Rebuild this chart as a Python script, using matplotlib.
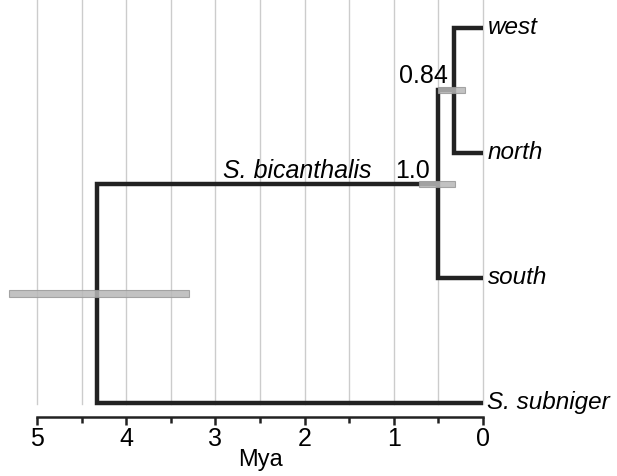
import matplotlib
matplotlib.use("Agg")
import matplotlib.pyplot as plt
import numpy as np

plt.rcParams['font.family'] = ['Liberation Sans', 'DejaVu Sans']

# Tips (name, y position)
tip_names = ["west", "north", "south", "S. subniger"]
tip_y = [3, 2, 1, 0]
tip_age = [0, 0, 0, 0]

# Node ages (Mya)
node_west_north = 0.33
node_bic = 0.50
node_root = 4.33

# HPD intervals (Mya) [older, younger]
hpd_root = (5.31, 3.30)
hpd_bic = (0.72, 0.31)
hpd_wn = (0.50, 0.20)

posterior_labels = ["0.84", "1.0"]
clade_label = "S. bicanthalis"

ticks = [5, 4, 3, 2, 1, 0]
tick_labels = ["5", "4", "3", "2", "1", "0"]

fig = plt.figure(figsize=(6.17, 4.76), dpi=100)
ax = fig.add_axes([0.0, 1 - 417/476, 483/617, 417/476])
ax.set_xlim(5 + 37/89.2, 0)
ax.set_ylim(-0.112, 3.22)

# grid lines every 0.5
for g in np.arange(0, 5.01, 0.5):
    ax.plot([g, g], [-0.01, 3.3], color="#cccccc", lw=1.0, zorder=0, clip_on=False)

lc = "#222222"
lw = 3.2
# west/north node
y_wn = (tip_y[0] + tip_y[1]) / 2
ax.plot([tip_age[0], node_west_north, node_west_north, tip_age[1]],
        [tip_y[0], tip_y[0], tip_y[1], tip_y[1]], color=lc, lw=lw,
        solid_joinstyle="miter", solid_capstyle="butt", zorder=3)
# bicanthalis node
y_bic = (y_wn + tip_y[2]) / 2
ax.plot([node_west_north, node_bic, node_bic, tip_age[2]],
        [y_wn, y_wn, tip_y[2], tip_y[2]], color=lc, lw=lw,
        solid_joinstyle="miter", solid_capstyle="butt", zorder=3)
# root
y_root = (y_bic + tip_y[3]) / 2
ax.plot([node_bic, node_root, node_root, tip_age[3]],
        [y_bic, y_bic, tip_y[3], tip_y[3]], color=lc, lw=lw,
        solid_joinstyle="miter", solid_capstyle="butt", zorder=3)

# HPD bars
bar_h = 0.05
for (a, b), yy in [(hpd_root, y_root), (hpd_bic, y_bic), (hpd_wn, y_wn)]:
    ax.barh(yy, a - b, left=b, height=bar_h, color="#b8b8b8", edgecolor="#999999",
            lw=0.8, alpha=0.85, zorder=4)

# tip labels
for name, yy, age in zip(tip_names, tip_y, tip_age):
    ax.text(age - 0.05, yy, name, style="italic", fontsize=17.5, va="center",
            ha="left", clip_on=False)

ax.text(0.39, y_wn + 0.056, posterior_labels[0], fontsize=18,
        ha="right", va="baseline")
ax.text(0.594, y_bic + 0.05, posterior_labels[1], fontsize=18,
        ha="right", va="baseline")
ax.text(2.08, y_bic + 0.05, clade_label, style="italic", fontsize=18,
        ha="center", va="baseline")

# axes styling
for s in ["top", "left", "right"]:
    ax.spines[s].set_visible(False)
ax.spines["bottom"].set_bounds(0, 5)
ax.spines["bottom"].set_linewidth(1.8)
ax.spines["bottom"].set_color("#222222")
ax.set_yticks([])
ax.set_xticks(ticks)
ax.set_xticklabels(tick_labels, fontsize=18)
ax.set_xticks(np.arange(0.5, 5, 1.0), minor=True)
ax.tick_params(axis="x", which="major", length=6, width=1.8, color="#222222", pad=1)
ax.tick_params(axis="x", which="minor", length=4, width=1.8, color="#222222")
ax.set_xlabel("Mya", fontsize=17, labelpad=-1)
ax.xaxis.label.set_x(260 / 483)

fig.savefig("out.png", dpi=100)
